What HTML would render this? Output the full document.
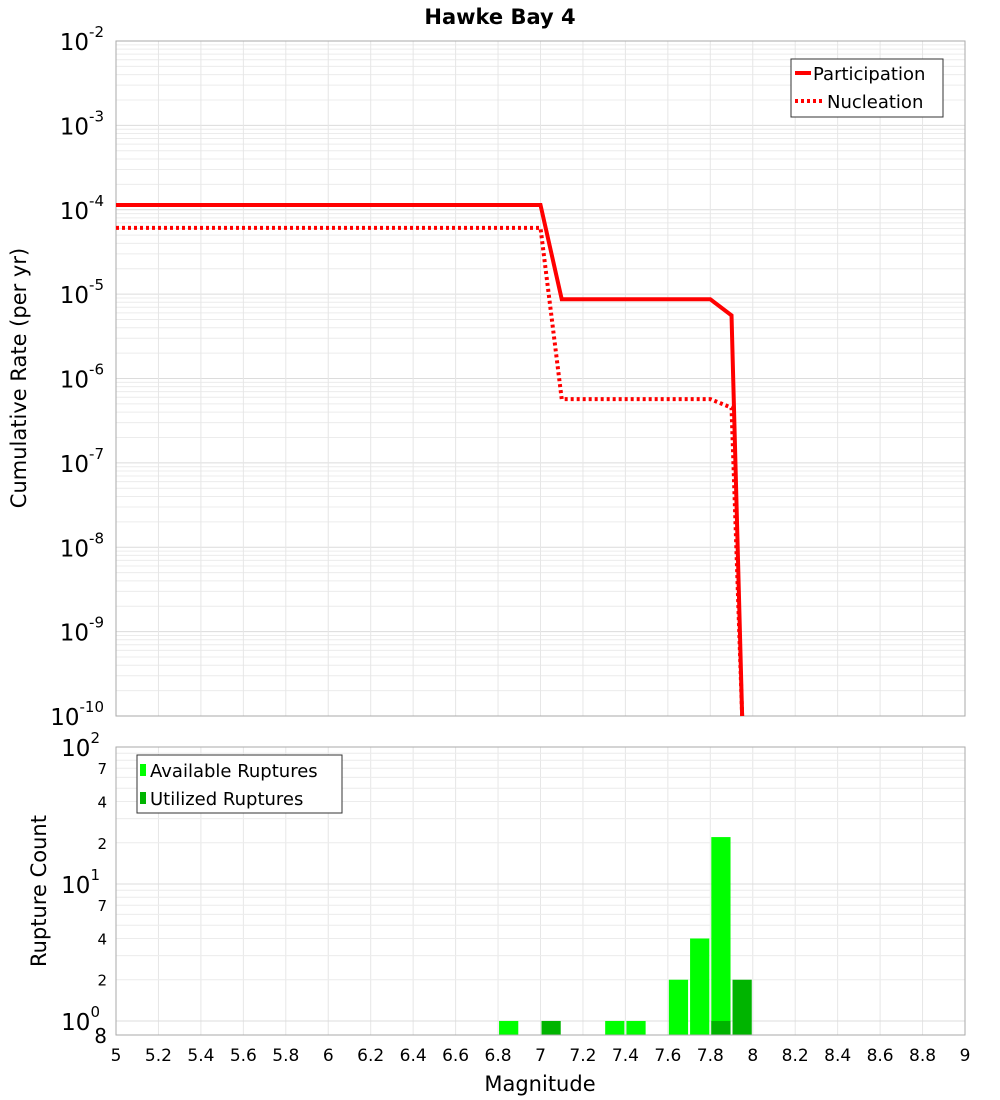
<!DOCTYPE html>
<html><head><meta charset="utf-8"><style>
html,body{margin:0;padding:0;background:#fff}
svg{display:block;font-family:"DejaVu Sans","Liberation Sans",sans-serif}
</style></head><body>
<svg id="chart" width="1000" height="1100" viewBox="0 0 1000 1100" xmlns="http://www.w3.org/2000/svg">
<text x="500" y="24" text-anchor="middle" font-size="21" font-weight="bold">Hawke Bay 4</text>
<g id="topPlot"></g>
<g id="botPlot"></g>
<text transform="translate(26,378) rotate(-90)" text-anchor="middle" font-size="21">Cumulative Rate (per yr)</text>
<text transform="translate(46,891) rotate(-90)" text-anchor="middle" font-size="21">Rupture Count</text>
<text x="540" y="1091" text-anchor="middle" font-size="21">Magnitude</text>
</svg>
<script>
const partMags=[5,7.0,7.1,7.8,7.9,7.95];
const partVals=[1.14e-4,1.14e-4,8.7e-6,8.7e-6,5.6e-6,1e-11];
const nuclMags=[5,7.0,7.1,7.8,7.9,7.95];
const nuclVals=[6.1e-5,6.1e-5,5.7e-7,5.7e-7,4.5e-7,1e-11];
const availMags=[6.85,7.35,7.45,7.65,7.75,7.85];
const availCounts=[1,1,1,2,4,22];
const usedMags=[7.05,7.85,7.95];
const usedCounts=[1,1,2];
const xTicks=[5,5.2,5.4,5.6,5.8,6,6.2,6.4,6.6,6.8,7,7.2,7.4,7.6,7.8,8,8.2,8.4,8.6,8.8,9];
const topExps=[-2,-3,-4,-5,-6,-7,-8,-9,-10];
const botMinor=[2,4,7,20,40,70];

const NS="http://www.w3.org/2000/svg";
const X0=116,X1=965;
const xs=m=>X0+(m-5)/4*(X1-X0);
const TY0=41,TY1=716;
const ty=v=>{let e=Math.log10(v);e=Math.max(-10.3,e);return TY0+(-2-e)*(TY1-TY0)/8;};
const BY0=747,BY1=1035,BMIN=0.79,BMAX=100;
const by=v=>BY1-(Math.log10(v)-Math.log10(BMIN))/(Math.log10(BMAX)-Math.log10(BMIN))*(BY1-BY0);
function mk(p,t,a,txt){const e=document.createElementNS(NS,t);for(const k in a)e.setAttribute(k,a[k]);if(txt!==undefined)e.textContent=txt;p.appendChild(e);return e;}
const topG=document.getElementById('topPlot'),botG=document.getElementById('botPlot');

for(let d=-10;d<-2;d++){for(let k=1;k<10;k++){const y=ty(k*Math.pow(10,d));
 const l=mk(topG,'line',{x1:X0,x2:X1,y1:y,y2:y,stroke:k==1?'#dcdcdc':'#ececec','stroke-width':1});
 
 }}
xTicks.forEach(m=>{const l=mk(topG,'line',{x1:xs(m),x2:xs(m),y1:TY0,y2:TY1,stroke:'#e6e6e6'});
 
 
 const l2=mk(botG,'line',{x1:xs(m),x2:xs(m),y1:BY0,y2:BY1,stroke:'#e6e6e6'});
 
 });
const tf=mk(topG,'rect',{x:X0,y:TY0,width:X1-X0,height:TY1-TY0,fill:'none',stroke:'#aaa'});


topExps.forEach(e=>{const y=ty(Math.pow(10,e));
 const t=mk(topG,'text',{x:104,y:y+9,'text-anchor':'end','font-size':23});
 
 
 t.textContent='10';const s=mk(t,'tspan',{dy:-13,'font-size':15});s.textContent=String(e);});

function line(mags,vals,dash,name){const pts=mags.map((m,i)=>xs(m)+','+Math.min(ty(vals[i]),TY1)).join(' ');
 const a={points:pts,fill:'none',stroke:'#ff0000','stroke-width':4};if(dash)a['stroke-dasharray']='3,3';
 const p=mk(topG,'polyline',a);
 
 }
line(partMags,partVals,false,'participation-line');
line(nuclMags,nuclVals,true,'nucleation-line');

const lg=mk(topG,'g',{});


mk(lg,'rect',{x:791,y:59,width:152,height:58,fill:'#fff',stroke:'#333'});
mk(lg,'line',{x1:795,x2:811,y1:73,y2:73,stroke:'#f00','stroke-width':4});
mk(lg,'text',{x:813,y:80,'font-size':18},'Participation');
mk(lg,'line',{x1:795,x2:822,y1:101,y2:101,stroke:'#f00','stroke-width':4,'stroke-dasharray':'3,3'});
mk(lg,'text',{x:827,y:108,'font-size':18},'Nucleation');

for(let d=0;d<2;d++){for(let k=1;k<10;k++){const v=k*Math.pow(10,d);const y=by(v);
 const l=mk(botG,'line',{x1:X0,x2:X1,y1:y,y2:y,stroke:k==1?'#dcdcdc':'#ececec'});
 
 }}
const bw=(X1-X0)/40;
function bars(mags,cnts,col,name){mags.forEach((m,i)=>{const y=by(cnts[i]);
 const r=mk(botG,'rect',{x:xs(m)-bw/2+1,y:y,width:bw-2,height:BY1-y,fill:col});
 
 });}
bars(availMags,availCounts,'#00ff00','available-bar');
bars(usedMags,usedCounts,'#00b400','utilized-bar');
const bf=mk(botG,'rect',{x:X0,y:BY0,width:X1-X0,height:BY1-BY0,fill:'none',stroke:'#aaa'});


[0,1,2].forEach(e=>{const y=by(Math.pow(10,e));
 const t=mk(botG,'text',{x:100,y:y+9,'text-anchor':'end','font-size':23});
 
 
 t.textContent='10';const s=mk(t,'tspan',{dy:-13,'font-size':15});s.textContent=String(e);});
botMinor.forEach(v=>{const t=mk(botG,'text',{x:107,y:by(v)+6,'text-anchor':'end','font-size':15},String(v).charAt(0));
 
 });
{const t=mk(botG,'text',{x:107,y:1043,'text-anchor':'end','font-size':20},'8');
 
 }
xTicks.forEach(m=>{const t=mk(botG,'text',{x:xs(m),y:1061,'text-anchor':'middle','font-size':17},String(m));
 
 });
const bl=mk(botG,'g',{});


mk(bl,'rect',{x:137,y:755,width:205,height:58,fill:'#fff',stroke:'#333'});
mk(bl,'rect',{x:140,y:764,width:6,height:12,fill:'#00ff00'});
mk(bl,'text',{x:150,y:777,'font-size':18},'Available Ruptures');
mk(bl,'rect',{x:140,y:792,width:6,height:12,fill:'#00b400'});
mk(bl,'text',{x:150,y:805,'font-size':18},'Utilized Ruptures');
</script>
</body></html>
